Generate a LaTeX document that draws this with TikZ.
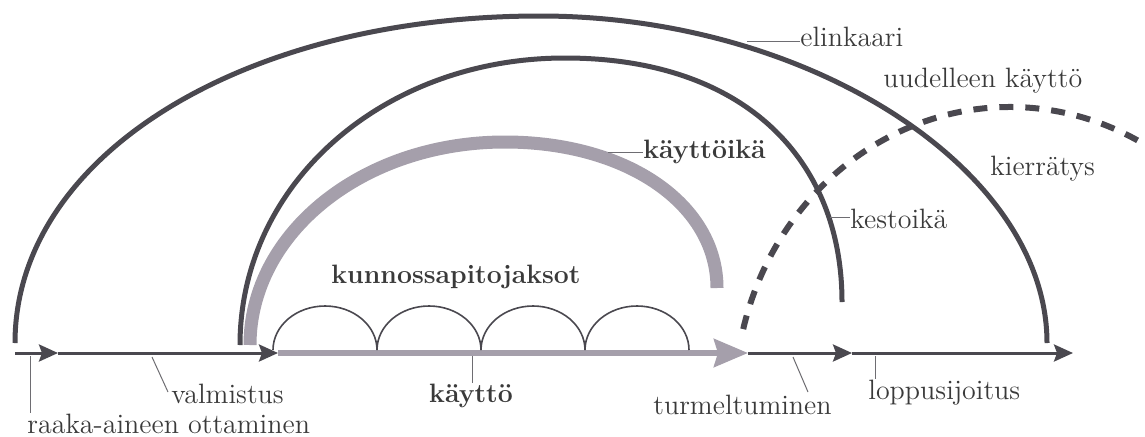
\documentclass[tikz,border=0pt]{standalone}
\usepackage{tikz}
\usetikzlibrary{arrows.meta}
\definecolor{arcdark}{HTML}{4A484F}
\definecolor{arcgrey}{HTML}{A59FAB}
\definecolor{txt}{HTML}{3A3A3A}

\begin{document}
\begin{tikzpicture}[x=0.5pt, y=0.5pt,
  darkarc/.style={draw=arcdark, line width=2.5pt},
  greyarc/.style={draw=arcgrey, line width=6.5pt},
  axisline/.style={draw=arcdark, line width=1.5pt, -{Stealth[length=9.5pt,width=8.5pt,inset=1.5pt]}},
  axisgrey/.style={draw=arcgrey, line width=3pt, -{Stealth[length=17pt,width=14pt,inset=2pt]}},
  reuse/.style={draw=arcdark, line width=3pt, dash pattern=on 7pt off 6pt},
  leader/.style={draw=arcdark!80, line width=0.5pt},
  lbl/.style={font=\fontsize{14}{16}\selectfont, text=txt, inner sep=0pt},
  blbl/.style={font=\fontsize{13.3}{16}\selectfont\bfseries, text=txt, inner sep=0pt}
]
\useasboundingbox (0,0) rectangle (1145,436);

% --- Time axis ---
\coordinate (ax0) at (15,83);
\coordinate (ax1) at (58,83);
\coordinate (ax2) at (278,83);
\coordinate (ax3) at (748,83);
\coordinate (ax4) at (852,83);
\coordinate (ax5) at (1073,83);

\draw[axisline] (ax0) -- (ax1);
\draw[axisline] (ax1) -- (ax2);
\draw[axisgrey] (ax2) -- (ax3);
\draw[axisline] (ax3) -- (ax4);
\draw[axisline] (ax4) -- (ax5);

% maintenance cycles
\foreach \i in {0,...,3} {
  \draw[arcdark, line width=0.8pt] (273+104*\i,86)
    arc[start angle=180, end angle=0, x radius=26pt, y radius=22pt];
}

% --- Arcs ---
\draw[darkarc] (15,93) .. controls (15,279) and (241,420) .. (540,420)
  .. controls (809,420) and (1047,267) .. (1047,93);
\draw[darkarc] (240,91) .. controls (240,252) and (383,378) .. (565,378)
  .. controls (745,378) and (842,276) .. (842,134);
\draw[greyarc] (250,91) .. controls (250,203) and (363,294) .. (505,294)
  .. controls (628,294) and (717,231) .. (717,148);
\draw[reuse] (743.2,106.9) arc[start angle=166, end angle=62, x radius=137.5pt, y radius=146.5pt];

% --- Labels above ---
\node[lbl, anchor=base west] (elinkaari) at (800,390) {elinkaari};
\node[lbl, anchor=base west] (uudelleen) at (883,349) {uudelleen käyttö};
\node[lbl, anchor=base west] (kierratys) at (990,261) {kierrätys};
\node[lbl, anchor=base west] (kestoika) at (850,208) {kestoikä};
\node[blbl, anchor=base west] (kayttoika) at (643,278) {käyttöikä};
\node[blbl, anchor=base] (jaksot) at (456,153) {kunnossapitojaksot};

\coordinate (elk) at (747,395);
\coordinate (kes) at (830,219);
\coordinate (kik) at (608,284);
\draw[leader] (elk) -- (elk -| elinkaari.west);
\draw[leader] (kes) -- (kes -| kestoika.west);
\draw[leader] (kik) -- (kik -| kayttoika.west);

% --- Labels below ---
\node[lbl, anchor=base west] (raaka) at (27,3) {raaka-aineen ottaminen};
\node[lbl, anchor=base west] (valmistus) at (171,33) {valmistus};
\node[blbl, anchor=base] (kaytto) at (471,34) {käyttö};
\node[lbl, anchor=base west] (turmel) at (653,22) {turmeltuminen};
\node[lbl, anchor=base west] (loppu) at (868,37) {loppusijoitus};

\coordinate (raa) at (30,80);
\coordinate (val0) at (152,79);
\coordinate (val1) at (168,44);
\coordinate (kay) at (472,80);
\coordinate (tur0) at (793,79);
\coordinate (tur1) at (808,44);
\coordinate (lop) at (875,80);
\draw[leader] (raa) -- (raa |- raaka.north);
\draw[leader] (val0) -- (val1);
\draw[leader] (kay) -- (kay |- kaytto.north);
\draw[leader] (tur0) -- (tur1);
\draw[leader] (lop) -- (lop |- loppu.north);

\end{tikzpicture}
\end{document}
